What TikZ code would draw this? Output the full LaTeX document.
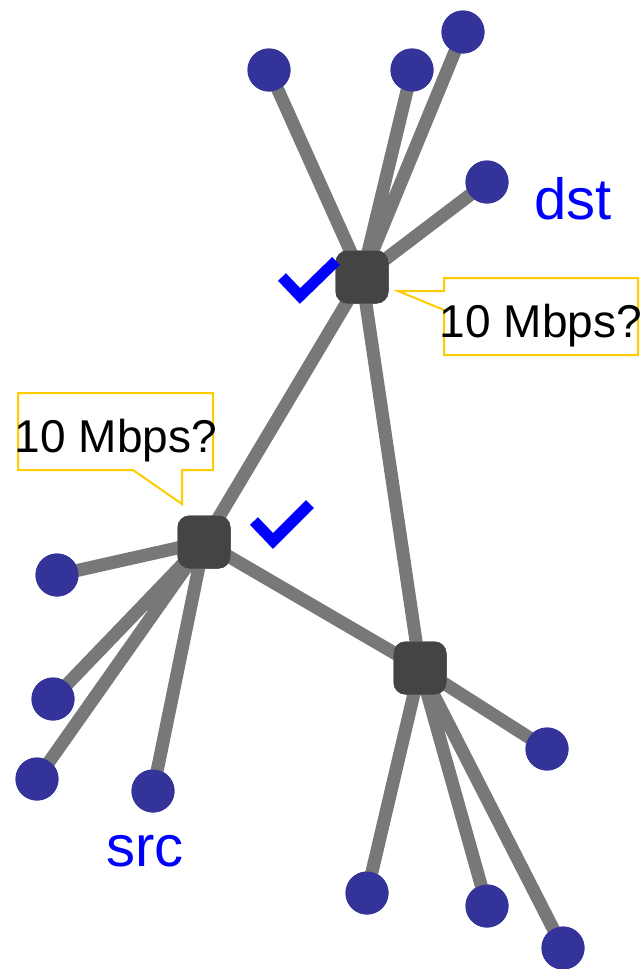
\documentclass[tikz,border=0pt]{standalone}
\usepackage{fontspec}
\setmainfont{Liberation Sans}
\definecolor{routergray}{HTML}{444444}
\definecolor{linkgray}{HTML}{787878}
\definecolor{hostblue}{HTML}{333399}
\definecolor{calloutyellow}{HTML}{FFCC00}
\definecolor{labelblue}{HTML}{0000FF}
\tikzset{
  router/.style={rectangle, rounded corners=12pt, fill=routergray, minimum size=53pt, inner sep=0pt},
  host/.style={circle, fill=hostblue, minimum size=43pt, inner sep=0pt},
  link/.style={draw=linkgray, line width=13pt},
  checkmark/.style={draw=labelblue, line width=11pt},
  callout/.style={draw=calloutyellow, line width=2pt, fill=white, line join=miter},
  bigtext/.style={font=\fontsize{46}{46}\selectfont, inner sep=0pt, anchor=base},
  labeltext/.style={font=\fontsize{58}{58}\selectfont, text=labelblue, inner sep=0pt, anchor=base},
}
\begin{document}
\begin{tikzpicture}[x=1pt,y=-1pt]
\useasboundingbox (0,0) rectangle (644,969);
% routers
\node[router] (r1) at (362,277) {};
\node[router] (r2) at (204,542) {};
\node[router] (r3) at (420,668) {};
% hosts
\node[host] (h1) at (269,70) {};
\node[host] (h2) at (412,70) {};
\node[host] (h3) at (463,32) {};
\node[host] (h4) at (487,182) {};
\node[host] (h5) at (57,575) {};
\node[host] (h6) at (53,699) {};
\node[host] (h7) at (37,779) {};
\node[host] (h8) at (153,791) {};
\node[host] (h9) at (547,749) {};
\node[host] (h10) at (367,893) {};
\node[host] (h11) at (487,906) {};
\node[host] (h12) at (563,948) {};
% links behind
\begin{scope}[on background layer/.try]
\end{scope}
\path[link] (r1.center) -- (h1.center) (r1.center) -- (h2.center) (r1.center) -- (h3.center) (r1.center) -- (h4.center)
  (r1.center) -- (r2.center) (r1.center) -- (r3.center) (r2.center) -- (r3.center)
  (r2.center) -- (h5.center) (r2.center) -- (h6.center) (r2.center) -- (h7.center) (r2.center) -- (h8.center)
  (r3.center) -- (h9.center) (r3.center) -- (h10.center) (r3.center) -- (h11.center) (r3.center) -- (h12.center);
% redraw nodes on top
\node[router] at (r1) {};
\node[router] at (r2) {};
\node[router] at (r3) {};
\foreach \h in {h1,h2,h3,h4,h5,h6,h7,h8,h9,h10,h11,h12} {\node[host] at (\h) {};}
% checkmarks
\draw[checkmark] (282,277) -- (300,296) -- (336,261);
\draw[checkmark] (254,521) -- (273,541) -- (310,504);
% callouts
\draw[callout] (444,278) -- (638,278) -- (638,355) -- (444,355) -- (444,310) -- (398,291) -- (444,291) -- cycle;
\node[bigtext] (c1) at (541,337) {10 Mbps?};
\draw[callout] (18,393) -- (213,393) -- (213,470) -- (182,470) -- (182,504) -- (133,470) -- (18,470) -- cycle;
\node[bigtext] (c2) at (116,452) {10 Mbps?};
% labels
\node[labeltext] (dst) at (573,219) {dst};
\node[labeltext] (src) at (145,866) {src};
\end{tikzpicture}
\end{document}
